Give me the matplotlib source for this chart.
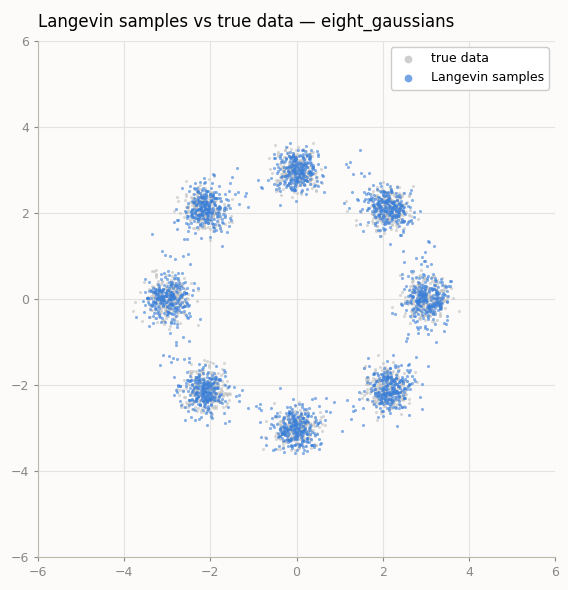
import numpy as np
import matplotlib
matplotlib.use("Agg")
import matplotlib.pyplot as plt

# mode centres (eight gaussians on radius 3)
center_x = [3.0, 2.12, 0.0, -2.12, -3.0, -2.12, 0.0, 2.12]
center_y = [0.0, 2.12, 3.0, 2.12, 0.0, -2.12, -3.0, -2.12]
mode_std = 0.25
n_per_mode = 250
title = "Langevin samples vs true data — eight_gaussians"
labels = ["true data", "Langevin samples"]

rng = np.random.default_rng(0)
cx = np.repeat(center_x, n_per_mode); cy = np.repeat(center_y, n_per_mode)
true_x = cx + rng.normal(0, mode_std, cx.size)
true_y = cy + rng.normal(0, mode_std, cy.size)
lx = cx + rng.normal(0, mode_std, cx.size)
ly = cy + rng.normal(0, mode_std, cy.size)
# sparse samples spread along the ring between modes
ang = rng.uniform(0, 2 * np.pi, 250)
rad = 3 + rng.normal(0, 0.3, 250)
lx = np.concatenate([lx, rad * np.cos(ang)]); ly = np.concatenate([ly, rad * np.sin(ang)])

bg = "#fcfbfa"
fig = plt.figure(figsize=(5.68, 5.90), dpi=100, facecolor=bg)
ax = fig.add_axes([38/568, 1-557/590, (555-38)/568, (557-41)/590], facecolor=bg)
ax.scatter(true_x, true_y, s=5, color="#bbbbbb", alpha=0.55, lw=0, label=labels[0])
ax.scatter(lx, ly, s=5, color="#3a7fd8", alpha=0.6, lw=0, label=labels[1])
ax.set_xlim(-6, 6); ax.set_ylim(-6, 6)
ax.set_xticks(range(-6, 7, 2)); ax.set_yticks(range(-6, 7, 2))
ax.grid(True, color="#e3e3e3", lw=0.8); ax.set_axisbelow(True)
for s in ["top", "right"]: ax.spines[s].set_visible(False)
for s in ["left", "bottom"]: ax.spines[s].set_color("#bbbbaa")
ax.tick_params(colors="#888888", labelsize=9, length=3)
ax.set_title(title, loc="left", fontsize=12, pad=10)
leg = ax.legend(loc="upper right", fontsize=9, markerscale=2.5, framealpha=1, edgecolor="#cccccc")
for h in leg.legend_handles: h.set_alpha(0.7)
fig.savefig("out.png", facecolor=bg)
